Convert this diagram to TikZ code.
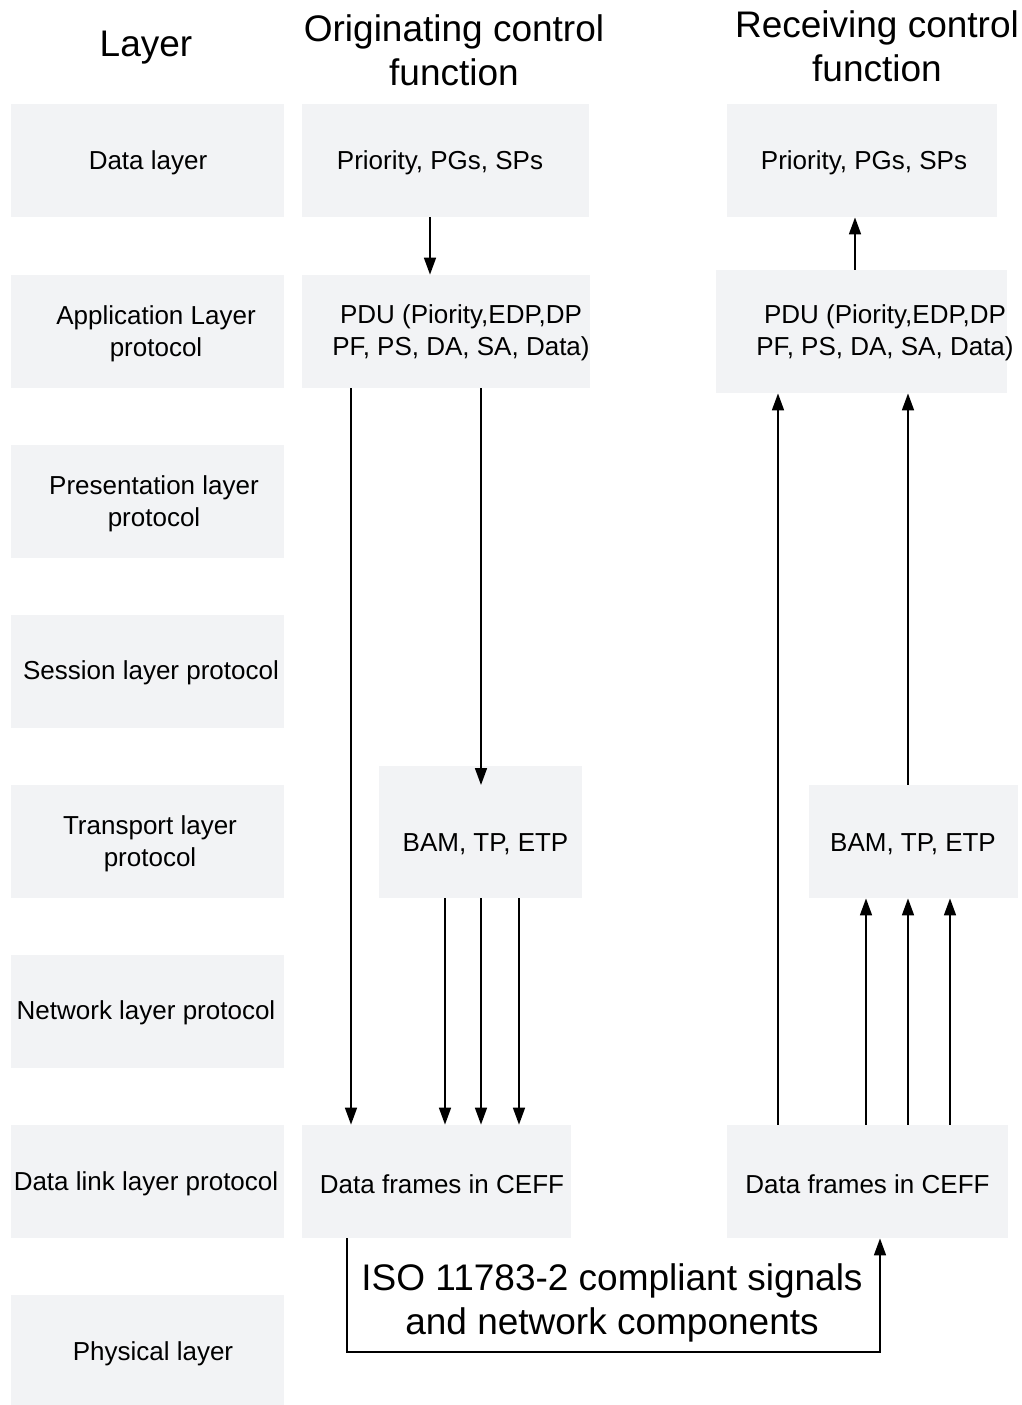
\documentclass[tikz,border=0pt]{standalone}
\usepackage{fontspec}
\setmainfont{Liberation Sans}
\usetikzlibrary{arrows.meta,fit}
\definecolor{boxgray}{RGB}{242,243,245}
\tikzset{
  box/.style={fill=boxgray, inner sep=0pt},
  lay/.style={font=\fontsize{13}{16}\selectfont, align=center, inner sep=0pt},
  head/.style={font=\fontsize{18.5}{22}\selectfont, align=center, inner sep=0pt},
  arr/.style={draw, line width=0.85pt, -{Triangle[length=8.5pt,width=6pt]}}
}
\begin{document}
\begin{tikzpicture}[x=0.5pt,y=-0.5pt]
\useasboundingbox (0,0) rectangle (1022,1405);

% headings
\node[head] (hlay)  at (146,48) {Layer};
\node[head] (horig) at (454,50) {Originating control\\function};
\node[head] (hrecv) at (877,46) {Receiving control\\function};

% layer column
\node[box, fit={(11,104)(284,217)}]   (dlay)  {};
\node[box, fit={(11,275)(284,388)}]   (app)   {};
\node[box, fit={(11,445)(284,558)}]   (pres)  {};
\node[box, fit={(11,615)(284,728)}]   (sess)  {};
\node[box, fit={(11,785)(284,898)}]   (trans) {};
\node[box, fit={(11,955)(284,1068)}]  (net)   {};
\node[box, fit={(11,1125)(284,1238)}] (link)  {};
\node[box, fit={(11,1295)(284,1405)}] (phys)  {};
\node[lay] (tdlay)  at (148,163)  {Data layer};
\node[lay] (tapp)   at (156,334)  {Application Layer\\protocol};
\node[lay] (tpres)  at (154,504)  {Presentation layer\\protocol};
\node[lay] (tsess)  at (151,673)  {Session layer protocol};
\node[lay] (ttrans) at (150,844)  {Transport layer\\protocol};
\node[lay] (tnet)   at (146,1013) {Network layer protocol};
\node[lay] (tlink)  at (146,1184) {Data link layer protocol};
\node[lay] (tphys)  at (153,1354) {Physical layer};

% originating control function
\node[box, fit={(302,104)(589,217)}]  (opri)   {};
\node[box, fit={(302,275)(590,388)}]  (opdu)   {};
\node[box, fit={(379,766)(582,898)}]  (obam)   {};
\node[box, fit={(302,1125)(571,1238)}] (oframe) {};
\node[lay] (topri)   at (440,163)   {Priority, PGs, SPs};
\node[lay] (topdu)   at (461,333)   {PDU (Piority,EDP,DP\\PF, PS, DA, SA, Data)};
\node[lay] (tobam)   at (485.5,844) {BAM, TP, ETP};
\node[lay] (toframe) at (442,1184)  {Data frames in CEFF};

% receiving control function
\node[box, fit={(727,104)(997,217)}]   (rpri)   {};
\node[box, fit={(716,270)(1007,393)}]  (rpdu)   {};
\node[box, fit={(809,785)(1018,898)}]  (rbam)   {};
\node[box, fit={(727,1125)(1008,1238)}] (rframe) {};
\node[lay] (trpri)   at (864,163)    {Priority, PGs, SPs};
\node[lay] (trpdu)   at (885,333)    {PDU (Piority,EDP,DP\\PF, PS, DA, SA, Data)};
\node[lay] (trbam)   at (913,844)    {BAM, TP, ETP};
\node[lay] (trframe) at (867.5,1184) {Data frames in CEFF};

% physical medium
\node[head] (tsig) at (612,1303) {ISO 11783-2 compliant signals\\and network components};
\coordinate (bus) at (612,1352);
\coordinate (otp) at (481,785);

% arrows, originating side
\draw[arr] (opri.south -| 430,0) -- (opdu.north -| 430,0);
\draw[arr] (opdu.south -| 351,0) -- (oframe.north -| 351,0);
\draw[arr] (opdu.south -| 481,0) -- (otp);
\foreach \x in {445,481,519}
  \draw[arr] (obam.south -| \x,0) -- (oframe.north -| \x,0);

% arrows, receiving side
\draw[arr] (rframe.north -| 778,0) -- (rpdu.south -| 778,0);
\draw[arr] (rbam.north -| 908,0) -- (rpdu.south -| 908,0);
\draw[arr] (rpdu.north -| 855,0) -- (rpri.south -| 855,0);
\foreach \x in {866,908,950}
  \draw[arr] (rframe.north -| \x,0) -- (rbam.south -| \x,0);

% bus
\draw[arr] (oframe.south -| 347,0) |- (bus) -| (rframe.south -| 880,0);
\end{tikzpicture}
\end{document}
